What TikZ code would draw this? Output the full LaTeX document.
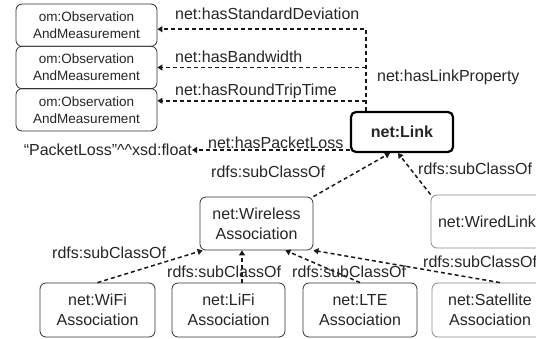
\documentclass[tikz,border=0pt]{standalone}
\usepackage{fontspec}
\setmainfont{Liberation Sans}
\usetikzlibrary{arrows.meta,calc}
\tikzset{
  txt/.style={text=black!85},
  box/.style={draw=black!80, line width=0.8pt, rounded corners=6pt, align=center, txt,
    font=\fontsize{16}{20}\selectfont, inner sep=0pt},
  lightbox/.style={draw=black!45},
  ombox/.style={box, minimum width=141pt, minimum height=42.3pt, font=\fontsize{13.5}{17}\selectfont},
  linkbox/.style={draw=black, line width=2.2pt, rounded corners=5pt, txt, inner sep=0pt,
    minimum width=102pt, minimum height=40pt, font=\fontsize{16}{20}\selectfont\bfseries},
  lbl/.style={txt, inner sep=0pt, font=\fontsize{16}{19}\selectfont},
  conn/.style={draw=black!90, dash pattern=on 4pt off 3pt, line width=1.5pt,
    -{Triangle[length=5pt,width=6pt]}},
}
\begin{document}
\begin{tikzpicture}[x=1pt,y=-1pt]
\useasboundingbox (0,0) rectangle (536,339);
\fill[white] (0,0) rectangle (536,339);
\clip (0,0) rectangle (536,339);

% nodes
\node[ombox] (om1) at (86.5,25.2) {om:Observation\\AndMeasurement};
\node[ombox] (om2) at (86.5,67.5) {om:Observation\\AndMeasurement};
\node[ombox] (om3) at (86.5,109.8) {om:Observation\\AndMeasurement};
\node[linkbox] (link) at (402,132) {net:Link};
\node[lbl, anchor=east] (lit) at (192,150) {``PacketLoss''\textasciicircum\textasciicircum xsd:float};
\node[box, minimum width=113pt, minimum height=53pt] (wl) at (256.5,223.5) {net:Wireless\\Association};
\node[box, lightbox, minimum width=112pt, minimum height=53pt] (wired) at (487,221.5) {net:WiredLink};
\node[box, minimum width=115pt, minimum height=54pt] (wifi) at (97.5,310) {net:WiFi\\Association};
\node[box, minimum width=113pt, minimum height=54pt] (lifi) at (228.5,310) {net:LiFi\\Association};
\node[box, minimum width=114pt, minimum height=54pt] (lte) at (360,310) {net:LTE\\Association};
\node[box, lightbox, minimum width=116pt, minimum height=54pt] (sat) at (490,310) {net:Satellite\\Association};

% property connectors
\coordinate (hub) at ([xshift=16pt]link.north west);
\coordinate (t1) at ([yshift=-4pt]om1.east);
\coordinate (t3) at ([yshift=9pt]om3.east);
\draw[conn] (hub) |- (t1);
\draw[conn] (hub |- om2.east) -- (om2.east);
\draw[conn] (hub |- t3) -- (t3);
\draw[conn] (link.west |- lit.east) -- (lit.east);

% subclass connectors
\draw[conn] (wl.north east) -- ([xshift=-12pt]link.south);
\draw[conn] (wired.north west) -- ([xshift=-4pt]link.south);
\draw[conn] (wifi.north) -- ([xshift=3pt]wl.south west);
\coordinate (lf) at ([xshift=13.5pt]lifi.north);
\draw[conn] (lf) -- (lf |- wl.south);
\draw[conn] (lte.north) -- ([xshift=-28pt]wl.south east);
\draw[conn] ([xshift=10pt]sat.north) -- (wl.south east);

% labels
\node[lbl, anchor=west] (l1) at (175,14) {net:hasStandardDeviation};
\node[lbl, anchor=west] (l2) at (175,57) {net:hasBandwidth};
\node[lbl, anchor=west] (l3) at (175,91) {net:hasRoundTripTime};
\node[lbl, anchor=west] (l4) at (377,77) {net:hasLinkProperty};
\node[lbl, anchor=west] (l5) at (208,143) {net:hasPacketLoss};
\node[lbl, anchor=west] (l6) at (211,172) {rdfs:subClassOf};
\node[lbl, anchor=west] (l7) at (418,169) {rdfs:subClassOf};
\node[lbl, anchor=west] (l8) at (423,262) {rdfs:subClassOf};
\node[lbl, anchor=west] (l9) at (52,253) {rdfs:subClassOf};
\node[lbl, anchor=west] (l10) at (167,272) {rdfs:subClassOf};
\node[lbl, anchor=west] (l11) at (292,272) {rdfs:subClassOf};
\end{tikzpicture}
\end{document}
